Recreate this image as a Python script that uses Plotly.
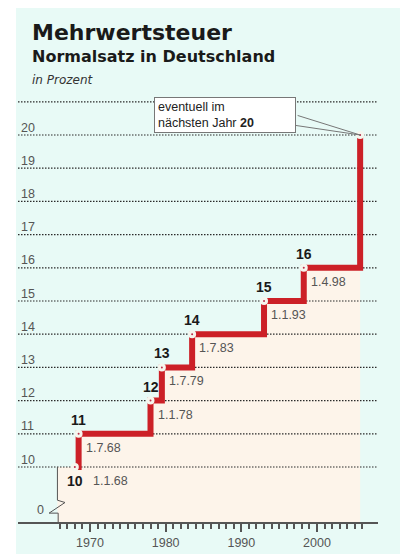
import plotly.graph_objects as go

# ---------------- data ----------------
CHANGE_LABELS = ["1.1.68", "1.7.68", "1.1.78", "1.7.79", "1.7.83", "1.1.93", "1.4.98"]
CHANGE_YEARS = [1968.0, 1968.5, 1978.0, 1979.5, 1983.5, 1993.0, 1998.25]
RATES = [10, 11, 12, 13, 14, 15, 16]
PROPOSED_YEAR = 2005.7
PROPOSED_RATE = 20
Y_TICK_VALUES = [10, 11, 12, 13, 14, 15, 16, 17, 18, 19, 20, 21]
Y_TICK_TEXT = ["10", "11", "12", "13", "14", "15", "16", "17", "18", "19", "20", ""]
X_TICK_VALUES = [1970, 1980, 1990, 2000]
X_MINOR_TICKS = list(range(1966, 2007))

# ---------------- layout constants ----------------
W, H = 400, 557
PLOT_L, PLOT_R, PLOT_T, PLOT_B = 18, 378, 98, 522
ML, MR, MT, MB = PLOT_L, W - PLOT_R, PLOT_T, H - PLOT_B
X_RANGE = [1960.49, 2008.06]
Y_RANGE = [8.343, 21.114]
AXIS_BREAK_X = 1965.7
FONT = "Liberation Sans, Arial, sans-serif"
TITLE_FONT = "DejaVu Sans, Liberation Sans, sans-serif"
RED = "#cc2027"
CYAN = "#e8faf6"
PEACH = "#fdf4ea"
GREY = "#555555"

plot_w = PLOT_R - PLOT_L
plot_h = PLOT_B - PLOT_T


def px_x(p):
    return (p - PLOT_L) / plot_w


def px_y(p):
    return (PLOT_B - p) / plot_h


line_x = CHANGE_YEARS + [PROPOSED_YEAR]
line_y = RATES + [PROPOSED_RATE]

fig = go.Figure()

# peach area under the step line
fig.add_trace(go.Scatter(
    x=[AXIS_BREAK_X] + line_x, y=[RATES[0]] + line_y,
    mode="lines", line=dict(shape="hv", width=0, color=PEACH),
    fill="tozeroy", fillcolor=PEACH, hoverinfo="skip", showlegend=False))

# dotted grid lines
gx, gy = [], []
for v in Y_TICK_VALUES:
    gx += [X_RANGE[0], X_RANGE[1], None]
    gy += [v, v, None]
fig.add_trace(go.Scatter(
    x=gx, y=gy, mode="lines",
    line=dict(color="#2a2a2a", width=1.2, dash="1.5px,1.5px"),
    hoverinfo="skip", showlegend=False))

# red step line
fig.add_trace(go.Scatter(
    x=line_x, y=line_y, mode="lines",
    line=dict(shape="hv", width=6, color=RED),
    hoverinfo="skip", showlegend=False))

# dots at the change points
fig.add_trace(go.Scatter(
    x=line_x, y=line_y, mode="markers",
    marker=dict(size=5, color="#b8304a", line=dict(color="#f6f6ee", width=3)),
    hoverinfo="skip", showlegend=False))

annotations = []
for i, (yr, r, lab) in enumerate(zip(CHANGE_YEARS, RATES, CHANGE_LABELS)):
    first = i == 0
    annotations.append(dict(
        x=yr, y=r, xref="x", yref="y", text=f"<b>{r}</b>", showarrow=False,
        font=dict(family=FONT, size=14, color="#1a1a1a"),
        yshift=-14 if first else 14, xshift=0))
    annotations.append(dict(
        x=yr, y=r, xref="x", yref="y", text=lab, showarrow=False,
        xanchor="left", font=dict(family=FONT, size=12.5, color=GREY),
        yshift=-14, xshift=16 if first else 5))

# callout box for the proposed rate
annotations.append(dict(
    x=PROPOSED_YEAR, y=PROPOSED_RATE, xref="x", yref="y",
    text=f"eventuell im<br>nächsten Jahr <b>{PROPOSED_RATE}</b>",
    showarrow=True, arrowhead=0, arrowwidth=1, arrowcolor="#777777",
    ax=-135, ay=-20, align="left", width=134, height=28,
    bgcolor="white", bordercolor="#777777", borderwidth=1, borderpad=3,
    font=dict(family=FONT, size=12.5, color="#222222")))
annotations.append(dict(
    x=PROPOSED_YEAR, y=PROPOSED_RATE, xref="x", yref="y", text="",
    showarrow=True, arrowhead=0, arrowwidth=1, arrowcolor="#777777",
    ax=-64, ay=-20))

# zero label for the broken axis
annotations.append(dict(
    x=px_x(35), y=8.70, xref="paper", yref="y", text="0", showarrow=False,
    font=dict(family=FONT, size=12.5, color=GREY)))

# titles
annotations.append(dict(
    x=px_x(31), y=px_y(32.5), xref="paper", yref="paper", text="<b>Mehrwertsteuer</b>",
    showarrow=False, xanchor="left", yanchor="middle", borderpad=0,
    font=dict(family=TITLE_FONT, size=22, color="#1a1a1a")))
annotations.append(dict(
    x=px_x(31), y=px_y(56.5), xref="paper", yref="paper",
    text="<b>Normalsatz in Deutschland</b>",
    showarrow=False, xanchor="left", yanchor="middle", borderpad=0,
    font=dict(family=TITLE_FONT, size=16, color="#1a1a1a")))
annotations.append(dict(
    x=px_x(31), y=px_y(80.5), xref="paper", yref="paper", text="<i>in Prozent</i>",
    showarrow=False, xanchor="left", yanchor="middle", borderpad=0,
    font=dict(family=TITLE_FONT, size=12, color="#333333")))

shapes = [
    # light cyan panel
    dict(type="rect", xref="paper", yref="paper", layer="below",
         x0=px_x(16), x1=px_x(401), y0=px_y(554), y1=px_y(8),
         fillcolor=CYAN, line=dict(width=0)),
    # axis break symbol
    dict(type="path", xref="x", yref="y", layer="above",
         path=f"M {AXIS_BREAK_X},10 L {AXIS_BREAK_X},9.0 L 1966.7,8.93 "
              f"L 1964.6,8.61 L 1965.8,8.61 L 1965.8,{Y_RANGE[0]}",
         line=dict(color=GREY, width=1)),
]

fig.update_layout(
    width=W, height=H, margin=dict(l=ML, r=MR, t=MT, b=MB, autoexpand=False),
    paper_bgcolor="white", plot_bgcolor="rgba(0,0,0,0)",
    showlegend=False, annotations=annotations, shapes=shapes,
    font=dict(family=FONT, color=GREY),
    xaxis=dict(range=X_RANGE, tickmode="array", tickvals=X_TICK_VALUES,
               ticks="outside", ticklen=8, tickwidth=2, tickcolor=GREY,
               minor=dict(tickmode="array", tickvals=X_MINOR_TICKS, ticks="outside",
                          ticklen=5, tickwidth=1.5, tickcolor=GREY),
               showline=True, linecolor=GREY, linewidth=1.5, automargin=False,
               showgrid=False, zeroline=False, ticklabelstandoff=0,
               tickfont=dict(family=FONT, size=12.5, color=GREY)),
    yaxis=dict(range=Y_RANGE, tickmode="array", tickvals=Y_TICK_VALUES,
               ticktext=Y_TICK_TEXT, ticklabelposition="inside top",
               ticklabelshift=1, automargin=False,
               ticks="", showgrid=False, zeroline=False, showline=False,
               tickfont=dict(family=FONT, size=12.5, color=GREY)),
)

fig.write_html("out.html", config={"displayModeBar": False},
               post_script="document.body.style.margin='0px';")
